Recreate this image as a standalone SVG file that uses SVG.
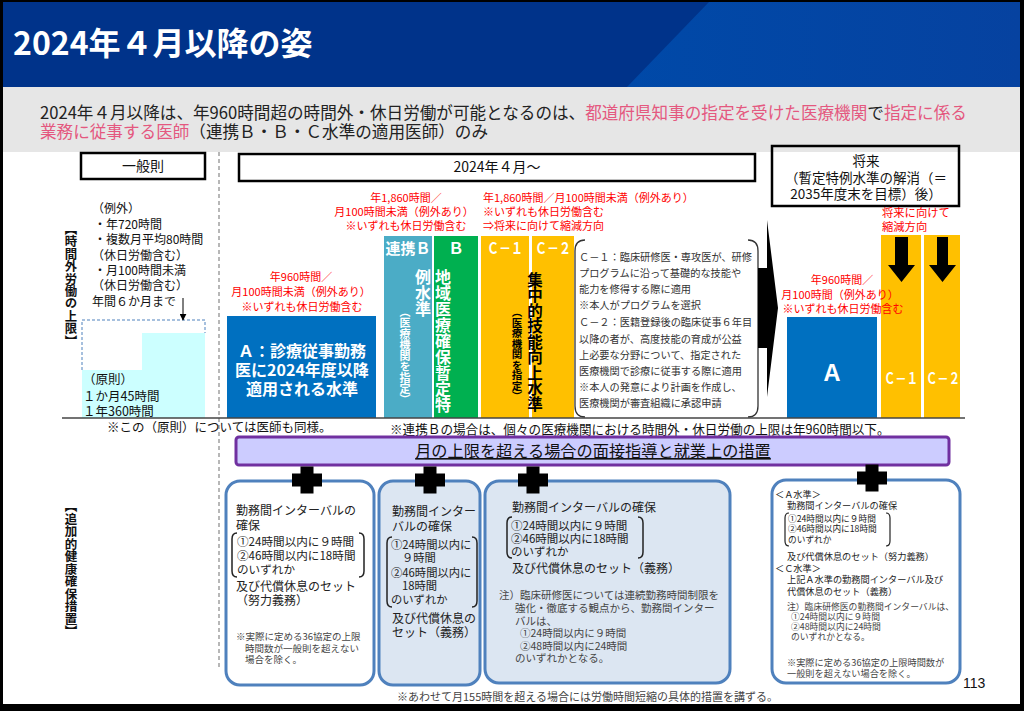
<svg xmlns="http://www.w3.org/2000/svg" width="1024" height="711" viewBox="0 0 1024 711">
<defs>
<linearGradient id="hdrLight" x1="0" y1="0" x2="1" y2="0">
<stop offset="0" stop-color="#0049A8"/>
<stop offset="1" stop-color="#0642A0"/>
</linearGradient>
<path id="plus" d="M-15,-6.5 H-6.5 V-13.5 H6.5 V-6.5 H15 V6.5 H6.5 V13.5 H-6.5 V6.5 H-15 Z" fill="#000"/>
<marker id="ah" viewBox="0 0 10 10" refX="9" refY="5" markerWidth="7" markerHeight="7" orient="auto" markerUnits="userSpaceOnUse">
<path d="M0,0 L10,5 L0,10 Z" fill="#000"/>
</marker>
</defs>
<style>
text{font-family:"Noto Sans CJK JP","Noto Sans",sans-serif;fill:#222;}
.title{font-size:32px;font-weight:bold;fill:#fff;}
.sub{font-size:16.6px;fill:#222;}
.pink{fill:#E4587F;}
.hdr{font-size:14px;fill:#111;}
.fut{font-size:13.5px;fill:#111;}
.ex{font-size:12px;fill:#111;}
.red{font-size:11px;fill:#FF0000;}
.wb{font-weight:bold;fill:#fff;}
.vert{writing-mode:vertical-rl;}
.expl{font-size:10.2px;fill:#333;}
.note{font-size:12.6px;fill:#111;}
.bx{font-size:12px;fill:#222;}
.bxs{font-size:9.5px;fill:#444;}
.b3s{font-size:10.5px;fill:#444;}
.b4{font-size:9.2px;fill:#222;}
.b4s{font-size:8.8px;fill:#444;}
.box{stroke:#4F81BD;stroke-width:3;}
.brk{fill:none;stroke:#222;stroke-width:1.5;}
.frame{fill:none;stroke:#000;stroke-width:2.5;}
</style>

<!-- background & frame -->
<rect x="0" y="0" width="1024" height="711" fill="#000"/>
<rect x="3" y="2" width="1017" height="702" fill="#fff"/>
<rect x="3" y="87" width="1017" height="65" fill="#E6E6E6"/>

<g id="header">
<rect x="3" y="2" width="1017" height="85" fill="#00338A"/>
<polygon points="709,2 1020,2 1020,87 627,87" fill="url(#hdrLight)"/>
<text class="title" x="13" y="55">2024年４月以降の姿</text>
</g>

<g id="subtitle">
<text class="sub" x="40" y="119">2024年４月以降は、年960時間超の時間外・休日労働が可能となるのは、<tspan class="pink">都道府県知事の指定を受けた医療機関</tspan>で<tspan class="pink">指定に係る</tspan></text>
<text class="sub" x="40" y="138"><tspan class="pink">業務に従事する医師</tspan>（連携Ｂ・Ｂ・Ｃ水準の適用医師）のみ</text>
</g>

<line x1="219" y1="152" x2="219" y2="668" stroke="#888" stroke-width="1.2" stroke-dasharray="4,3"/>

<g id="hdr-general">
<rect class="frame" x="81" y="153" width="124" height="26" fill="#fff"/>
<text class="hdr" x="143" y="171" text-anchor="middle">一般則</text>
</g>
<g id="hdr-2024">
<rect class="frame" x="239" y="154" width="516" height="27" fill="#fff"/>
<text class="hdr" x="497" y="172" text-anchor="middle">2024年４月～</text>
</g>
<g id="hdr-future">
<rect class="frame" x="772" y="146" width="187" height="60" fill="#fff"/>
<text class="fut" x="866" y="166" text-anchor="middle">将来</text>
<text class="fut" x="866" y="183" text-anchor="middle">（暫定特例水準の解消（＝</text>
<text class="fut" x="866" y="199" text-anchor="middle">2035年度末を目標）後）</text>
</g>

<g id="label-upper">
<text class="vert" x="71" y="223" style="font-size:12.4px;font-weight:bold;fill:#111">【時間外労働の上限】</text>
</g>
<g id="label-lower">
<text class="vert" x="71" y="500" style="font-size:12.5px;font-weight:bold;fill:#111">【追加的健康確保措置】</text>
</g>

<g id="general">
<path d="M82,370 V320 H205 V333" fill="none" stroke="#4F81BD" stroke-width="1" stroke-dasharray="3,2"/>
<path d="M82,418 V370 H142 V333 H205 V418 Z" fill="#CCFFFF"/>
<text class="ex" x="92" y="213">（例外）</text>
<text class="ex" x="94" y="229">・年720時間</text>
<text class="ex" x="94" y="244">・複数月平均80時間</text>
<text class="ex" x="92" y="260">（休日労働含む）</text>
<text class="ex" x="94" y="275">・月100時間未満</text>
<text class="ex" x="92" y="290">（休日労働含む）</text>
<text class="ex" x="92" y="306">年間６か月まで</text>
<text class="ex" x="83" y="384" style="font-size:12.5px">（原則）</text>
<text class="ex" x="83" y="401" style="font-size:12.5px">１か月45時間</text>
<text class="ex" x="83" y="416" style="font-size:12.5px">１年360時間</text>
</g>

<g id="level-A">
<text class="red" x="301" y="281" text-anchor="middle">年960時間／</text>
<text class="red" x="301" y="296" text-anchor="middle">月100時間未満（例外あり）</text>
<text class="red" x="302" y="311" text-anchor="middle">※いずれも休日労働含む</text>
<rect x="227" y="316" width="149" height="102" fill="#0070C0"/>
<text class="wb" x="302" y="357" text-anchor="middle" style="font-size:16px">Ａ：診療従事勤務</text>
<text class="wb" x="302" y="376" text-anchor="middle" style="font-size:16px">医に2024年度以降</text>
<text class="wb" x="302" y="395" text-anchor="middle" style="font-size:16px">適用される水準</text>
</g>

<g id="level-B">
<text class="red" x="406" y="202" text-anchor="middle">年1,860時間／</text>
<text class="red" x="404" y="216" text-anchor="middle">月100時間未満（例外あり）</text>
<text class="red" x="406" y="230" text-anchor="middle">※いずれも休日労働含む</text>
<rect x="384" y="236" width="48" height="182" fill="#4BACC6"/>
<rect x="434" y="236" width="44" height="182" fill="#00B050"/>
<text class="wb" x="408" y="254" text-anchor="middle" style="font-size:15px">連携Ｂ</text>
<text class="wb" x="456" y="254" text-anchor="middle" style="font-size:16px">Ｂ</text>
<text class="wb vert" x="443" y="269" style="font-size:16px">地域医療確保暫定特</text>
<text class="wb vert" x="423" y="269" style="font-size:16px">例水準</text>
<text class="wb vert" x="405" y="306" style="font-size:11px">（医療機関を指定）</text>
</g>

<g id="level-C">
<text class="red" x="483" y="202">年1,860時間／月100時間未満（例外あり）</text>
<text class="red" x="483" y="216">※いずれも休日労働含む</text>
<text class="red" x="483" y="230">⇒将来に向けて縮減方向</text>
<rect x="481" y="236" width="48" height="182" fill="#FFC000"/>
<rect x="532" y="236" width="42" height="182" fill="#FFC000"/>
<text class="wb" x="505" y="254" text-anchor="middle" style="font-size:16px" textLength="36" lengthAdjust="spacingAndGlyphs">Ｃ－１</text>
<text class="wb" x="553" y="254" text-anchor="middle" style="font-size:16px" textLength="36" lengthAdjust="spacingAndGlyphs">Ｃ－２</text>
<text class="vert" x="535" y="272" style="font-size:15.5px;font-weight:bold;fill:#000">集中的技能向上水準</text>
<text class="vert" x="517" y="307" style="font-size:10.5px;font-weight:bold;fill:#000">（医療機関を指定）</text>
</g>

<g id="explanation">
<path class="brk" d="M585,240 Q575,240 575,251 V406 Q575,417 585,417" style="stroke:#333;stroke-width:1.3"/>
<path class="brk" d="M748,240 Q758,240 758,251 V406 Q758,417 748,417" style="stroke:#333;stroke-width:1.3"/>
<text class="expl" x="579" y="261">Ｃ－１：臨床研修医・専攻医が、研修</text>
<text class="expl" x="579" y="277">プログラムに沿って基礎的な技能や</text>
<text class="expl" x="579" y="293">能力を修得する際に適用</text>
<text class="expl" x="579" y="309">※本人がプログラムを選択</text>
<text class="expl" x="579" y="326">Ｃ－２：医籍登録後の臨床従事６年目</text>
<text class="expl" x="579" y="343">以降の者が、高度技能の育成が公益</text>
<text class="expl" x="579" y="359">上必要な分野について、指定された</text>
<text class="expl" x="579" y="375">医療機関で診療に従事する際に適用</text>
<text class="expl" x="579" y="391">※本人の発意により計画を作成し、</text>
<text class="expl" x="579" y="407">医療機関が審査組織に承認申請</text>
</g>

<g id="future">
<rect x="787" y="317" width="90" height="101" fill="#0070C0"/>
<rect x="881" y="235" width="40" height="183" fill="#FFC000"/>
<rect x="924" y="235" width="36" height="183" fill="#FFC000"/>
<text class="red" x="842" y="284" text-anchor="middle">年960時間／</text>
<text class="red" x="840" y="299" text-anchor="middle">月100時間（例外あり）</text>
<text class="red" x="843" y="313" text-anchor="middle">※いずれも休日労働含む</text>
<text class="red" x="882" y="217" style="font-size:11.3px">将来に向けて</text>
<text class="red" x="882" y="231" style="font-size:11.3px">縮減方向</text>
<text class="wb" x="832" y="381" text-anchor="middle" style="font-size:22px">Ａ</text>
<text class="wb" x="901" y="384" text-anchor="middle" style="font-size:15px" textLength="34" lengthAdjust="spacingAndGlyphs">Ｃ－１</text>
<text class="wb" x="943" y="384" text-anchor="middle" style="font-size:15px" textLength="34" lengthAdjust="spacingAndGlyphs">Ｃ－２</text>
</g>

<g id="baseline-notes">
<line x1="62" y1="418" x2="965" y2="418" stroke="#444" stroke-width="1.5"/>
<text class="note" x="107" y="432" style="font-size:12.5px">※この（原則）については医師も同様。</text>
<text class="note" x="390" y="434">※連携Ｂの場合は、個々の医療機関における時間外・休日労働の上限は年960時間以下。</text>
</g>

<g id="banner">
<rect x="236" y="437" width="713" height="28" rx="3" fill="#CCCCFF" stroke="#7030A0" stroke-width="3"/>
<text x="593" y="457" text-anchor="middle" style="font-size:16.2px;fill:#111;text-decoration:underline">月の上限を超える場合の面接指導と就業上の措置</text>
</g>

<g id="box-A">
<rect class="box" x="226" y="481" width="148" height="204" rx="14" fill="#fff"/>
<text class="bx" x="236" y="515">勤務間インターバルの</text>
<text class="bx" x="236" y="530">確保</text>
<path class="brk" d="M237,533 Q232,533 232,539 V571 Q232,577 237,577"/>
<path class="brk" d="M359,533 Q364,533 364,539 V571 Q364,577 359,577"/>
<text class="bx" x="237" y="546" style="font-size:11.6px">①24時間以内に９時間</text>
<text class="bx" x="237" y="560" style="font-size:11.6px">②46時間以内に18時間</text>
<text class="bx" x="237" y="574" style="font-size:11.6px">のいずれか</text>
<text class="bx" x="236" y="591">及び代償休息のセット</text>
<text class="bx" x="236" y="605">（努力義務）</text>
<text class="bxs" x="236" y="640">※実際に定める36協定の上限</text>
<text class="bxs" x="245" y="652">時間数が一般則を超えない</text>
<text class="bxs" x="245" y="663">場合を除く。</text>
</g>

<g id="box-B">
<rect class="box" x="379" y="481" width="101" height="204" rx="14" fill="#DCE6F2"/>
<text class="bx" x="392" y="516">勤務間インター</text>
<text class="bx" x="392" y="531">バルの確保</text>
<path class="brk" d="M392,537 Q387,537 387,543 V601 Q387,607 392,607"/>
<path class="brk" d="M472,537 Q477,537 477,543 V601 Q477,607 472,607"/>
<text class="bx" x="391" y="549" style="font-size:11.3px">①24時間以内に</text>
<text class="bx" x="402" y="562" style="font-size:11.3px">９時間</text>
<text class="bx" x="391" y="577" style="font-size:11.3px">②46時間以内に</text>
<text class="bx" x="402" y="590" style="font-size:11.3px">18時間</text>
<text class="bx" x="391" y="604" style="font-size:11.3px">のいずれか</text>
<text class="bx" x="392" y="623">及び代償休息の</text>
<text class="bx" x="392" y="637">セット（義務）</text>
</g>

<g id="box-C">
<rect class="box" x="485" y="481" width="245" height="202" rx="14" fill="#DCE6F2"/>
<text class="bx" x="512" y="512">勤務間インターバルの確保</text>
<path class="brk" d="M512,517 Q507,517 507,523 V552 Q507,558 512,558"/>
<path class="brk" d="M638,517 Q643,517 643,523 V552 Q643,558 638,558"/>
<text class="bx" x="511" y="530" style="font-size:11.5px">①24時間以内に９時間</text>
<text class="bx" x="511" y="543" style="font-size:11.5px">②46時間以内に18時間</text>
<text class="bx" x="511" y="556" style="font-size:11.5px">のいずれか</text>
<text class="bx" x="512" y="573">及び代償休息のセット（義務）</text>
<text class="b3s" x="499" y="599">注）臨床研修医については連続勤務時間制限を</text>
<text class="b3s" x="515" y="612">強化・徹底する観点から、勤務間インター</text>
<text class="b3s" x="515" y="625">バルは、</text>
<text class="b3s" x="520" y="637">①24時間以内に９時間</text>
<text class="b3s" x="520" y="650">②48時間以内に24時間</text>
<text class="b3s" x="515" y="662">のいずれかとなる。</text>
</g>

<g id="box-future">
<rect class="box" x="772" y="480" width="188" height="203" rx="14" fill="#fff"/>
<text class="b4" x="775" y="498">＜Ａ水準＞</text>
<text class="b4" x="787" y="509">勤務間インターバルの確保</text>
<path class="brk" d="M789,513 Q785,513 785,518 V541 Q785,546 789,546" style="stroke-width:1.2"/>
<path class="brk" d="M886,513 Q890,513 890,518 V541 Q890,546 886,546" style="stroke-width:1.2"/>
<text class="b4" x="788" y="521.5" style="font-size:8.7px">①24時間以内に９時間</text>
<text class="b4" x="788" y="532" style="font-size:8.7px">②46時間以内に18時間</text>
<text class="b4" x="788" y="542.5" style="font-size:8.7px">のいずれか</text>
<text class="b4" x="787" y="560">及び代償休息のセット（努力義務）</text>
<text class="b4" x="775" y="572">＜Ｃ水準＞</text>
<text class="b4" x="787" y="583">上記Ａ水準の勤務間インターバル及び</text>
<text class="b4" x="787" y="595">代償休息のセット（義務）</text>
<text class="b4s" x="787" y="610">注）臨床研修医の勤務間インターバルは、</text>
<text class="b4s" x="791" y="620">①24時間以内に９時間</text>
<text class="b4s" x="791" y="630">②48時間以内に24時間</text>
<text class="b4s" x="791" y="640">のいずれかとなる。</text>
<text class="b4s" x="787" y="666" style="font-size:9.2px">※実際に定める36協定の上限時間数が</text>
<text class="b4s" x="787" y="677" style="font-size:9.2px">一般則を超えない場合を除く。</text>
</g>

<g id="footer">
<text x="397" y="701" style="font-size:11px;fill:#444">※あわせて月155時間を超える場合には労働時間短縮の具体的措置を講ずる。</text>
<text x="963" y="688" style="font-family:'Liberation Sans',Arial,sans-serif;font-size:14px;fill:#111">113</text>
</g>

<g id="connectors">
<line x1="183" y1="298" x2="183" y2="320" stroke="#000" stroke-width="1" marker-end="url(#ah)"/>
<polygon points="758,268 767,268 767,220 778,308 767,397 767,348 758,348" fill="#000"/>
<polygon points="895,237 908,237 908,265 915,265 901.5,282 888,265 895,265" fill="#000"/>
<polygon points="937,237 948,237 948,265 956,265 942.5,282 929,265 937,265" fill="#000"/>
<use href="#plus" x="307" y="480"/>
<use href="#plus" x="430" y="480"/>
<use href="#plus" x="533" y="480"/>
<use href="#plus" x="872" y="478"/>
</g>
</svg>
